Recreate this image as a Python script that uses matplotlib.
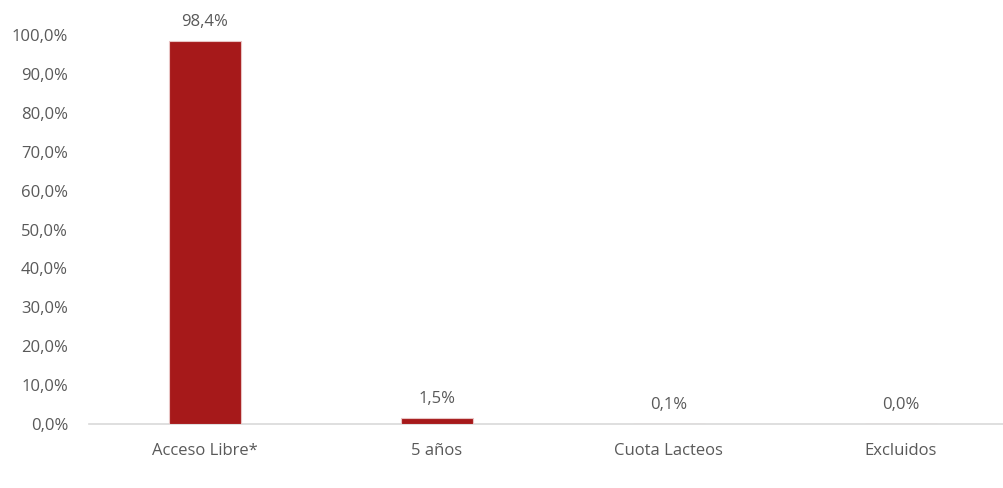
import matplotlib.pyplot as plt
from matplotlib.ticker import FuncFormatter

categories = ["Acceso Libre*", "5 años", "Cuota Lacteos", "Excluidos"]
values = [98.4, 1.5, 0.1, 0.0]
value_labels = ["98,4%", "1,5%", "0,1%", "0,0%"]

BAR_COLOR = "#A6191A"
TEXT_COLOR = "#595959"

plt.rcParams["font.family"] = ["Open Sans", "DejaVu Sans"]

fig = plt.figure(figsize=(10.04, 4.88), dpi=100)
ax = fig.add_axes([0.0886, 0.1311, 0.924, 0.797])

x = range(len(categories))
ax.bar(x, values, width=0.31, color=BAR_COLOR, edgecolor="#E8C4C4", linewidth=0.8, zorder=3)

for i, (v, lab) in enumerate(zip(values, value_labels)):
    ax.annotate(lab, (i, v), xytext=(0, 8), textcoords="offset points",
                ha="center", va="bottom", fontsize=12, color=TEXT_COLOR)

ax.set_xlim(-0.5, len(categories) - 0.5)
ax.set_ylim(0, 100)
ax.set_yticks(range(0, 101, 10))
ax.yaxis.set_major_formatter(FuncFormatter(lambda v, p: f"{v:.1f}%".replace(".", ",")))
ax.set_xticks(list(x))
ax.set_xticklabels(categories)

for s in ["top", "right", "left"]:
    ax.spines[s].set_visible(False)
ax.spines["bottom"].set_color("#D9D9D9")
ax.spines["bottom"].set_linewidth(1.2)
ax.tick_params(axis="both", length=0, labelsize=12, colors=TEXT_COLOR)
ax.tick_params(axis="x", pad=14)
ax.tick_params(axis="y", pad=15)

fig.savefig("out.png", dpi=100)
